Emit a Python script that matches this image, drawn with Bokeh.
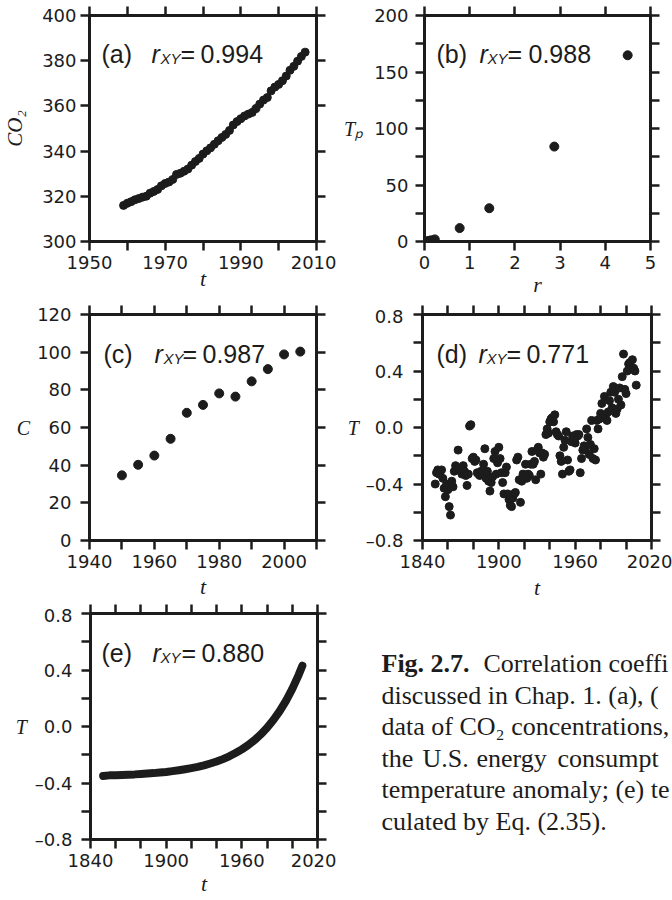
from bokeh.plotting import figure
from bokeh.layouts import column, row
from bokeh.models import FixedTicker, LinearAxis, Label, Range1d, CustomJSTickFormatter
from bokeh.embed import file_html
from bokeh.resources import INLINE

INK = "#1c1c1c"

# (a) atmospheric CO2, annual means (ppm)
co2_year = list(range(1959, 2008))
co2_ppm = [315.98, 316.91, 317.64, 318.45, 318.99, 319.62, 320.04, 321.38, 322.16, 323.04,
           324.62, 325.68, 326.32, 327.45, 329.68, 330.18, 331.08, 332.05, 333.78, 335.41,
           336.78, 338.68, 340.10, 341.44, 343.03, 344.58, 346.04, 347.39, 349.16, 351.56,
           353.07, 354.35, 355.57, 356.38, 357.07, 358.82, 360.80, 362.59, 363.71, 366.65,
           368.33, 369.52, 371.13, 373.22, 375.77, 377.49, 379.80, 381.90, 383.79]

# (b) planetary orbits: mean distance r (10^9 km) and period T_P (years)
orbit_r = [0.058, 0.108, 0.150, 0.228, 0.778, 1.433, 2.872, 4.495]
orbit_tp = [0.24, 0.62, 1.00, 1.88, 11.86, 29.46, 84.01, 164.8]

# (c) U.S. energy consumption
energy_year = [1950, 1955, 1960, 1965, 1970, 1975, 1980, 1985, 1990, 1995, 2000, 2005]
energy_c = [34.6, 40.2, 45.1, 54.0, 67.8, 72.0, 78.1, 76.4, 84.5, 91.0, 98.8, 100.3]

# (d) global temperature anomaly, annual
temp_year = list(range(1850, 2009))
temp_obs = [
    -0.40, -0.32, -0.30, -0.33, -0.31, -0.30, -0.36, -0.43, -0.49, -0.40,
    -0.44, -0.56, -0.62, -0.38, -0.42, -0.31, -0.27, -0.30, -0.16, -0.29,
    -0.30, -0.33, -0.27, -0.31, -0.34, -0.41, -0.33, 0.01, 0.02, -0.22,
    -0.21, -0.24, -0.23, -0.32, -0.33, -0.34, -0.31, -0.33, -0.26, -0.15,
    -0.36, -0.31, -0.38, -0.45, -0.39, -0.35, -0.22, -0.17, -0.33, -0.25,
    -0.14, -0.22, -0.32, -0.39, -0.47, -0.32, -0.28, -0.47, -0.51, -0.55,
    -0.56, -0.50, -0.47, -0.46, -0.23, -0.21, -0.37, -0.53, -0.38, -0.33,
    -0.34, -0.26, -0.36, -0.33, -0.34, -0.26, -0.17, -0.26, -0.24, -0.37,
    -0.16, -0.14, -0.18, -0.33, -0.18, -0.21, -0.19, -0.05, -0.01, -0.04,
    0.04, 0.06, 0.07, 0.04, 0.09, -0.03, -0.05, -0.06, -0.20, -0.24,
    -0.33, -0.14, -0.09, -0.03, -0.23, -0.31, -0.30, -0.10, -0.06, -0.08,
    -0.11, -0.05, -0.06, -0.05, -0.32, -0.22, -0.16, -0.13, -0.15, -0.01,
    -0.07, -0.19, -0.12, 0.05, -0.22, -0.15, -0.23, 0.05, -0.01, 0.06,
    0.10, 0.17, 0.07, 0.22, 0.09, 0.05, 0.11, 0.19, 0.25, 0.14,
    0.29, 0.25, 0.10, 0.13, 0.20, 0.28, 0.16, 0.36, 0.52, 0.27,
    0.24, 0.40, 0.45, 0.46, 0.42, 0.48, 0.42, 0.40, 0.30]

# (e) temperature from Eq. (2.35)
model_year = [1850, 1855, 1860, 1865, 1870, 1875, 1880, 1885, 1890, 1895, 1900,
              1905, 1910, 1915, 1920, 1925, 1930, 1935, 1940, 1945, 1950, 1955,
              1960, 1965, 1970, 1975, 1980, 1985, 1990, 1995, 2000, 2005, 2008]
model_t = [-0.350, -0.346, -0.345, -0.343, -0.341, -0.339, -0.336, -0.333, -0.330, -0.326, -0.322,
           -0.316, -0.310, -0.303, -0.295, -0.286, -0.275, -0.262, -0.248, -0.231, -0.211, -0.188,
           -0.162, -0.132, -0.097, -0.056, -0.009, 0.046, 0.109, 0.182, 0.266, 0.364, 0.430]

caption_head = "Fig. 2.7."
caption_first = "Correlation coeffi"
caption_lines = [
    "discussed in Chap. 1. (a), (",
    "data of CO\u2082 concentrations,",
    None,
    "temperature anomaly; (e) te",
    "culated by Eq. (2.35).",
]
# the justified fourth line, word by word
caption_words4 = ["the", "U.S.", "energy", "consumpt"]
caption_x4 = [45, 86, 140, 221]

TICK_FONT = "DejaVu Sans"
TAG_FONT = "Liberation Sans"
SERIF = "Liberation Serif"


def note(p, x, y, text, size, font=TAG_FONT, style="normal", align="left"):
    p.add_layout(Label(x=x, y=y, x_units="screen", y_units="screen", text=text,
                       text_font=font, text_font_size=f"{size}px", text_font_style=style,
                       text_align=align, text_baseline="alphabetic", text_color=INK))


def panel(height, top, bottom, left, right, xr, yr, xmaj, xmin, ymaj, ymin, ystand,
          xtitle, ytitle, xt_stand, yt_stand, ytitle_orient="horizontal", signed=False):
    p = figure(width=336, height=height, x_range=Range1d(*xr), y_range=Range1d(*yr),
               output_backend="svg", toolbar_location=None,
               min_border_left=left, min_border_right=right,
               min_border_top=top, min_border_bottom=bottom)
    p.grid.visible = False
    p.outline_line_color = INK
    p.outline_line_width = 3
    p.add_layout(LinearAxis(), "above")
    p.add_layout(LinearAxis(), "right")
    for side, axes in (("x", p.below + p.above), ("y", p.left + p.right)):
        for ax in axes:
            if side == "x":
                ax.ticker = FixedTicker(ticks=xmaj, minor_ticks=xmin)
            else:
                ax.ticker = FixedTicker(ticks=ymaj, minor_ticks=ymin)
            ax.major_tick_in = 0
            ax.minor_tick_in = 0
            ax.major_tick_out = 9
            ax.minor_tick_out = 9
            ax.major_tick_line_width = 2.5
            ax.minor_tick_line_width = 2.5
            ax.major_tick_line_color = INK
            ax.minor_tick_line_color = INK
            ax.axis_line_width = 3
            ax.axis_line_color = INK
            ax.major_label_text_font = TICK_FONT
            ax.major_label_text_font_size = "18px"
            ax.major_label_text_color = INK
    for ax in p.above + p.right:
        ax.formatter = CustomJSTickFormatter(code="return ''")
        ax.major_label_text_font_size = "0px"
        ax.major_label_standoff = 0
    xa, ya = p.below[0], p.left[0]
    xa.major_label_standoff = 5
    ya.major_label_standoff = ystand
    if signed:
        ya.formatter = CustomJSTickFormatter(
            code="return tick.toFixed(1).replace('-', '\\u2013')")
    for ax, title, stand in ((xa, xtitle, xt_stand), (ya, ytitle, yt_stand)):
        ax.axis_label = title
        ax.axis_label_text_font = SERIF
        ax.axis_label_text_font_style = "italic"
        ax.axis_label_text_color = INK
        ax.axis_label_standoff = stand
    xa.axis_label_text_font_size = "22px"
    ya.axis_label_text_font_size = "20px"
    ya.axis_label_orientation = ytitle_orient
    return p


def tag(p, letter, value, xs, y=188):
    note(p, xs[0], y, f"({letter})", 25)
    note(p, xs[1], y, "r", 25, style="italic")
    note(p, xs[2], y - 5, "XY", 15, style="italic")
    note(p, xs[3], y, "=", 25)
    note(p, xs[4], y, value, 25)


# (a)
pa = panel(305, 15, 64, 89, 20, (1950, 2010), (300, 400),
           [1950, 1970, 1990, 2010], [1960, 1980, 2000],
           [300, 320, 340, 360, 380, 400], [], 4,
           "t", "CO\u2082", -6, 12, ytitle_orient="parallel")
pa.left[0].axis_label_text_font_size = "21px"
pa.scatter(co2_year, co2_ppm, size=8, color=INK)
tag(pa, "a", "0.994", [12, 62, 71, 91, 111])

# (b)
pb = panel(305, 15, 64, 88, 22, (0, 5), (0, 200),
           [0, 1, 2, 3, 4, 5], [],
           [0, 50, 100, 150, 200], [25, 75, 125, 175], 7,
           "r", "T\u209a", 0, 8)
pb.scatter(orbit_r, orbit_tp, size=9, color=INK)
tag(pb, "b", "0.988", [12, 55, 63, 83, 104])

# (c)
pc = panel(299, 9, 64, 89, 20, (1940, 2010), (0, 120),
           [1940, 1960, 1980, 2000], [1950, 1970, 1990, 2010],
           [0, 20, 40, 60, 80, 100, 120], [], 9,
           "t", "C", 3, 4)
pc.scatter(energy_year, energy_c, size=9, color=INK)
tag(pc, "c", "0.987", [14, 65, 74, 93, 113], y=187)

# (d)
pd_ = panel(299, 9, 64, 86, 21, (1840, 2020), (-0.8, 0.8),
            [1840, 1900, 1960, 2020], [1860, 1880, 1920, 1940, 1980, 2000],
            [-0.8, -0.4, 0.0, 0.4, 0.8], [-0.6, -0.2, 0.2, 0.6], 10,
            "t", "T", 4, 4, signed=True)
pd_.scatter(temp_year, temp_obs, size=8, color=INK)
tag(pd_, "d", "0.771", [14, 56, 64, 84, 104], y=187)

# (e)
pe = panel(296, 9, 61, 90, 19, (1840, 2020), (-0.8, 0.8),
           [1840, 1900, 1960, 2020], [1860, 1880, 1920, 1940, 1980, 2000],
           [-0.8, -0.4, 0.0, 0.4, 0.8], [-0.6, -0.2, 0.2, 0.6], 9,
           "t", "T", 1, 5, signed=True)
pe.line(model_year, model_t, line_width=8, color=INK, line_cap="round", line_join="round")
tag(pe, "e", "0.880", [11, 62, 70, 91, 111], y=187)

# figure caption (its frame lines up with the frame of panel (e))
cap = figure(width=336, height=296, x_range=Range1d(0, 1), y_range=Range1d(0, 1),
             output_backend="svg", toolbar_location=None, min_border=0,
             x_axis_type=None, y_axis_type=None)
cap.outline_line_color = None
cap.grid.visible = False
note(cap, 45, 176, caption_head, 26, font=SERIF, style="bold")
note(cap, 147, 176, caption_first, 26, font=SERIF)
for i, line in enumerate(caption_lines, start=1):
    y = 176 - 31.5 * i
    if line is None:
        for word, x in zip(caption_words4, caption_x4):
            note(cap, x, y, word, 26, font=SERIF)
    else:
        note(cap, 45, y, line, 26, font=SERIF)

layout = column(row(pa, pb), row(pc, pd_), row(pe, cap))
open("out.html", "w").write(file_html(layout, INLINE))
